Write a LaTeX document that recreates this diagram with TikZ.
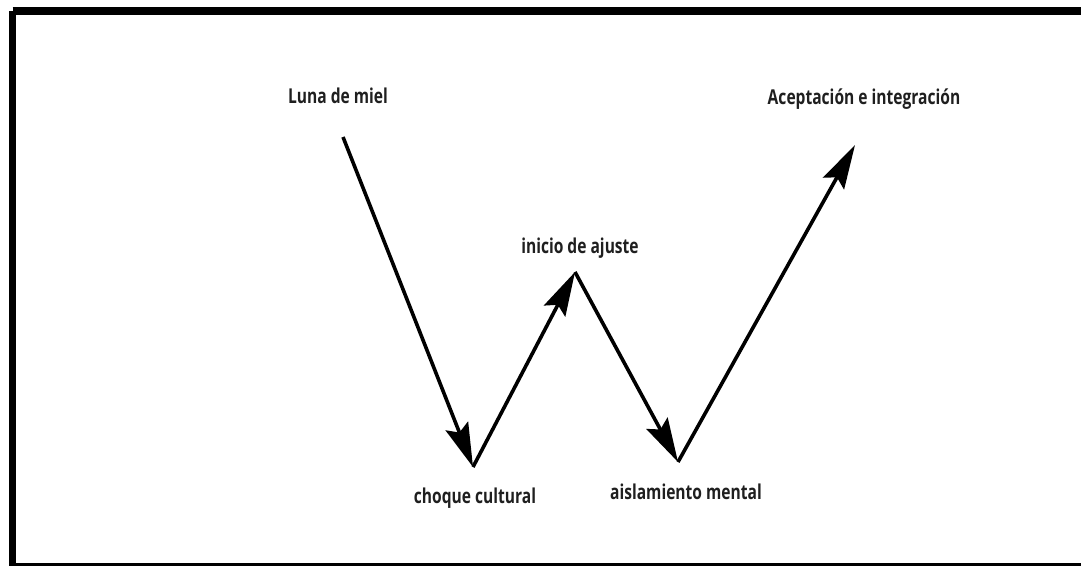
\documentclass[tikz,border=0pt]{standalone}
\usepackage{fontspec}
\setmainfont{Open Sans}[FakeStretch=0.76]
\usetikzlibrary{arrows.meta}
\begin{document}
\begin{tikzpicture}[x=1pt,y=-1pt,
  lbl/.style={font=\fontsize{20.5}{24}\selectfont\bfseries, text=black!88, inner sep=0pt, anchor=base},
  seg/.style={line width=3.6pt, -{Stealth[length=44pt,width=24pt,inset=7pt]}}]
\useasboundingbox (0,0) rectangle (1081,565);
\clip (0,0) rectangle (1081,565);
\fill[white] (0,0) rectangle (1081,565);
\draw[line width=7.5pt] (12.5,11) -- (1100,11);
\draw[line width=7.5pt] (12.5,11) -- (12.5,580);
\draw[line width=5pt] (12.5,565.5) -- (1100,565.5);
% points
\coordinate (s) at (343,137);
\coordinate (v1) at (473,467);
\coordinate (p) at (575,272);
\coordinate (v2) at (678,462);
\coordinate (e) at (855,145);
% labels
\node[lbl] (luna) at (338,103) {Luna de miel};
\node[lbl] (acep) at (864,104) {Aceptación e integración};
\node[lbl] (ini) at (580,253) {inicio de ajuste};
\node[lbl] (choq) at (475,503) {choque cultural};
\node[lbl] (aisl) at (686,499) {aislamiento mental};
% arrows
\draw[seg] (s) -- (v1);
\draw[seg] (v1) -- (p);
\draw[seg] (p) -- (v2);
\draw[seg] (v2) -- (e);
\end{tikzpicture}
\end{document}
